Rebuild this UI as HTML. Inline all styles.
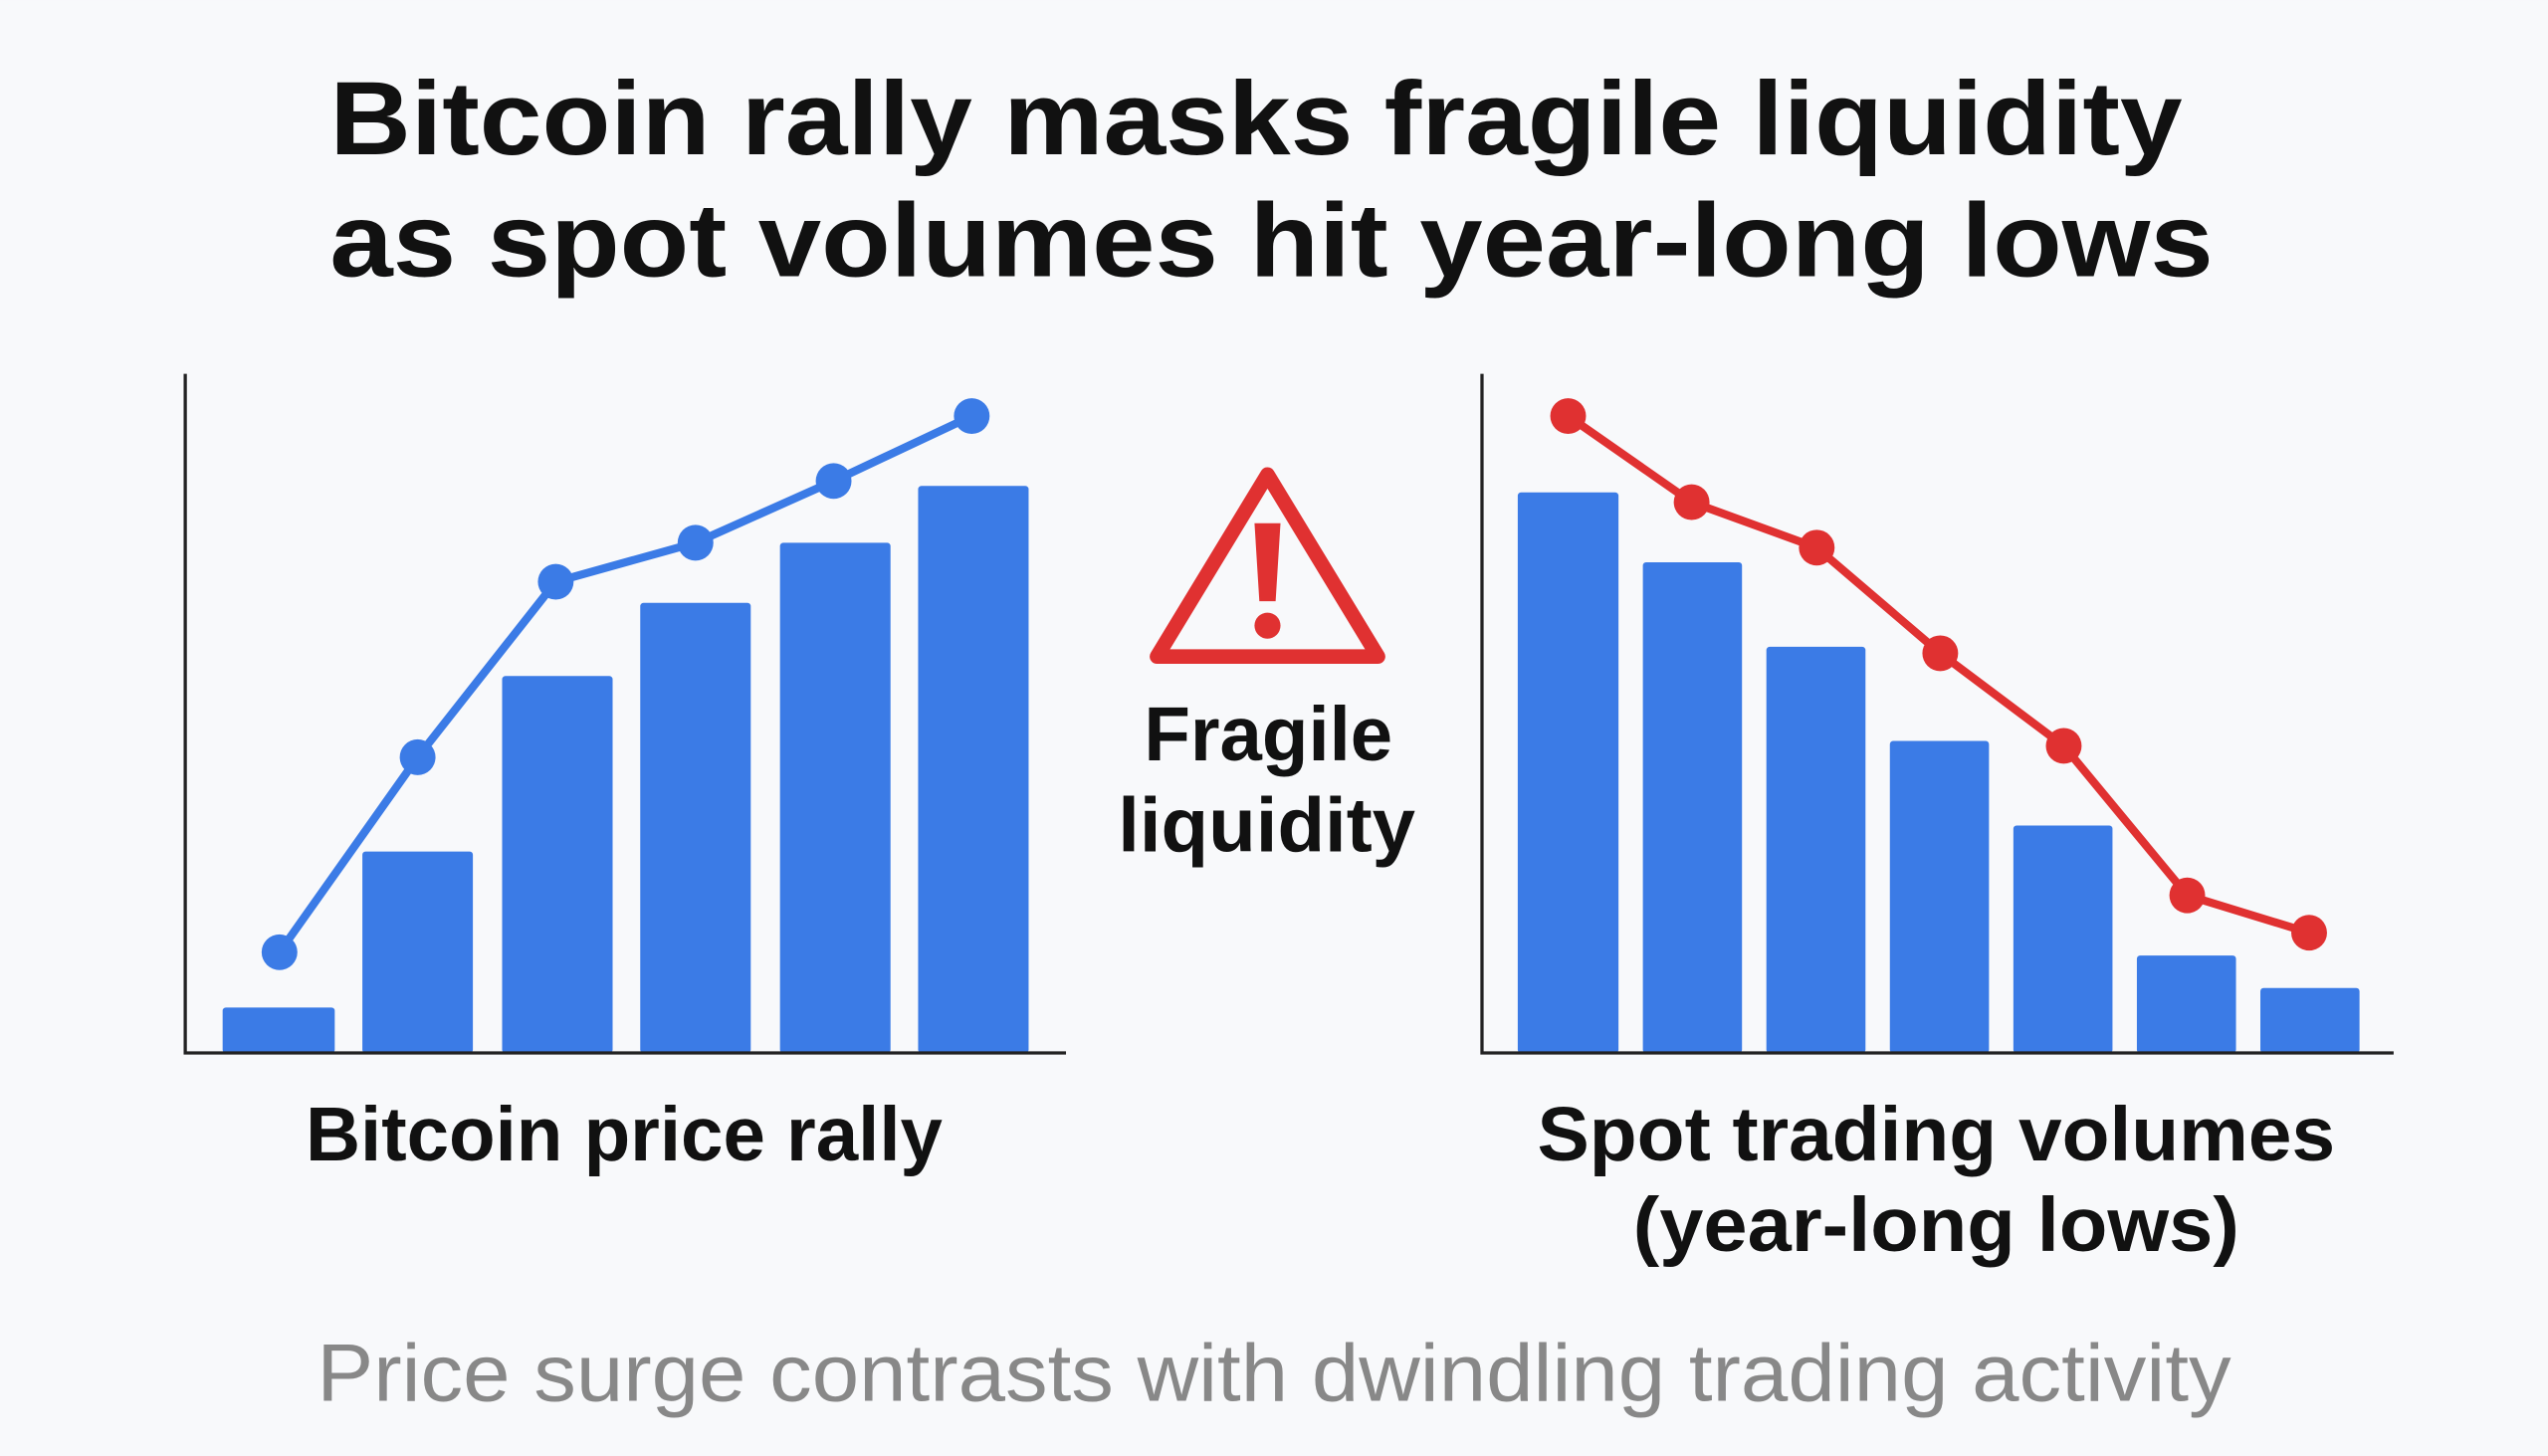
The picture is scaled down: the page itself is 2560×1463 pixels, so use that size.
<!DOCTYPE html>
<html><head><meta charset="utf-8"><style>
html,body{margin:0;padding:0;background:#f8f9fb;}
svg{display:block;}
text{font-family:"Liberation Sans",sans-serif;}
</style></head><body>
<svg width="2560" height="1463" viewBox="0 0 1568 896" xmlns="http://www.w3.org/2000/svg">
<rect width="1568" height="896" fill="#f8f9fb"/>
<text x="203" y="95" font-size="64" font-weight="bold" fill="#111" textLength="1140" lengthAdjust="spacingAndGlyphs">Bitcoin rally masks fragile liquidity</text>
<text x="203" y="170" font-size="64" font-weight="bold" fill="#111" textLength="1159" lengthAdjust="spacingAndGlyphs">as spot volumes hit year-long lows</text>
<!-- left chart -->
<g fill="#3b7be6">
<rect x="137" y="620" width="69" height="28" rx="2"/>
<rect x="223" y="524" width="68" height="124" rx="2"/>
<rect x="309" y="416" width="68" height="232" rx="2"/>
<rect x="394" y="371" width="68" height="277" rx="2"/>
<rect x="480" y="334" width="68" height="314" rx="2"/>
<rect x="565" y="299" width="68" height="349" rx="2"/>
</g>
<path d="M114 230 V648 H656" fill="none" stroke="#222" stroke-width="2"/>
<polyline points="172,586 257,466 342,358 428,334 513,296 598,256" fill="none" stroke="#3b7be6" stroke-width="5"/>
<g fill="#3b7be6">
<circle cx="172" cy="586" r="11"/><circle cx="257" cy="466" r="11"/><circle cx="342" cy="358" r="11"/>
<circle cx="428" cy="334" r="11"/><circle cx="513" cy="296" r="11"/><circle cx="598" cy="256" r="11"/>
</g>
<!-- right chart -->
<g fill="#3b7be6">
<rect x="934" y="303" width="62" height="345" rx="2"/>
<rect x="1011" y="346" width="61" height="302" rx="2"/>
<rect x="1087" y="398" width="61" height="250" rx="2"/>
<rect x="1163" y="456" width="61" height="192" rx="2"/>
<rect x="1239" y="508" width="61" height="140" rx="2"/>
<rect x="1315" y="588" width="61" height="60" rx="2"/>
<rect x="1391" y="608" width="61" height="40" rx="2"/>
</g>
<path d="M912 230 V648 H1473" fill="none" stroke="#222" stroke-width="2"/>
<polyline points="965,256 1041,309 1118,337 1194,402 1270,459 1346,551 1421,574" fill="none" stroke="#e03131" stroke-width="5"/>
<g fill="#e03131">
<circle cx="965" cy="256" r="11"/><circle cx="1041" cy="309" r="11"/><circle cx="1118" cy="337" r="11"/>
<circle cx="1194" cy="402" r="11"/><circle cx="1270" cy="459" r="11"/><circle cx="1346" cy="551" r="11"/><circle cx="1421" cy="574" r="11"/>
</g>
<!-- warning -->
<path d="M780 292 L848 404 H712 Z" fill="none" stroke="#e03131" stroke-width="9" stroke-linejoin="round"/>
<path d="M772 322 H788 L785 370 H775 Z" fill="#e03131"/>
<circle cx="780" cy="385" r="8" fill="#e03131"/>
<text x="704" y="468" font-size="47" font-weight="bold" fill="#111" textLength="153" lengthAdjust="spacingAndGlyphs">Fragile</text>
<text x="688" y="524" font-size="47" font-weight="bold" fill="#111" textLength="183" lengthAdjust="spacingAndGlyphs">liquidity</text>
<text x="188" y="714" font-size="47" font-weight="bold" fill="#111" textLength="392" lengthAdjust="spacingAndGlyphs">Bitcoin price rally</text>
<text x="946" y="714" font-size="47" font-weight="bold" fill="#111" textLength="491" lengthAdjust="spacingAndGlyphs">Spot trading volumes</text>
<text x="1005" y="770" font-size="47" font-weight="bold" fill="#111" textLength="373" lengthAdjust="spacingAndGlyphs">(year-long lows)</text>
<text x="195" y="862" font-size="50" fill="#888" textLength="1178" lengthAdjust="spacingAndGlyphs">Price surge contrasts with dwindling trading activity</text>
</svg>
</body></html>
